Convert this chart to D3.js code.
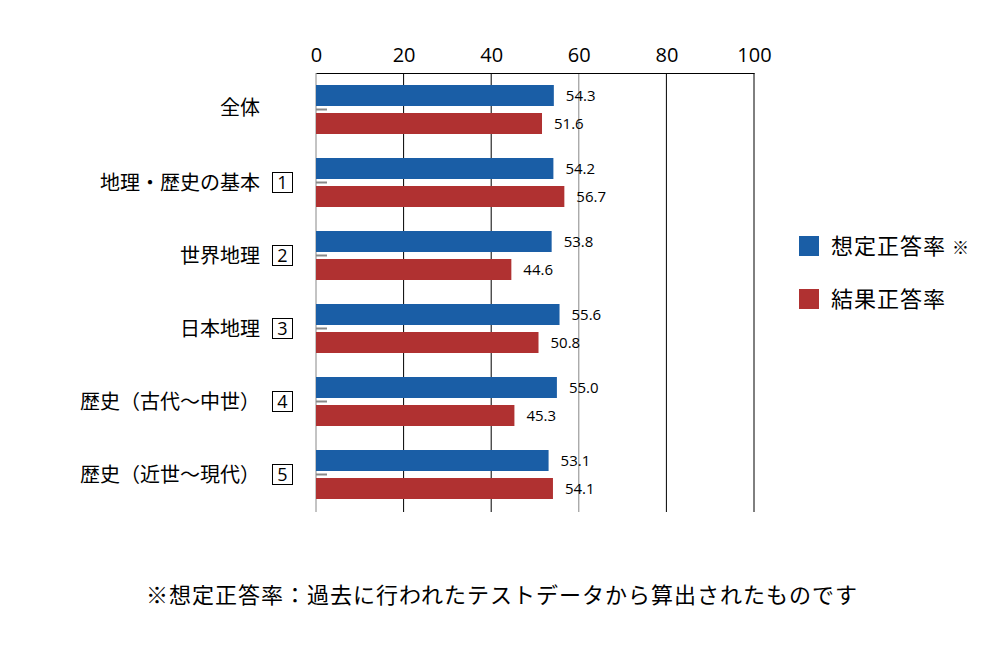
<!DOCTYPE html>
<html><head><meta charset="utf-8">
<script src="https://cdn.jsdelivr.net/npm/d3@7"></script>
<style>body{margin:0;background:#fff;} svg{display:block;font-family:"Noto Sans CJK JP","Noto Sans",sans-serif;}</style>
</head><body>
<script>
const categories = ["全体","地理・歴史の基本","世界地理","日本地理","歴史（古代〜中世）","歴史（近世〜現代）"];
const boxNums = ["","1","2","3","4","5"];
const expected = [54.3,54.2,53.8,55.6,55.0,53.1];
const actual = [51.6,56.7,44.6,50.8,45.3,54.1];
const expectedLabels = ["54.3","54.2","53.8","55.6","55.0","53.1"];
const actualLabels = ["51.6","56.7","44.6","50.8","45.3","54.1"];
const ticks = [0,20,40,60,80,100];
const seriesNames = ["想定正答率","結果正答率"];
const colors = ["#1a5ea6","#b03131"];
const footnote = "※想定正答率：過去に行われたテストデータから算出されたものです";

const W=1001,H=660;
const svg=d3.select("body").append("svg").attr("width",W).attr("height",H);
const x=d3.scaleLinear().domain([0,100]).range([316,754]);
const y=d3.scaleBand().domain(categories).range([73,511]);
const numFont="'Open Sans','Noto Sans',sans-serif";

svg.append("g").selectAll("line").data(ticks).join("line")
 .attr("x1",d=>x(d)).attr("x2",d=>x(d)).attr("y1",73).attr("y2",512)
 .attr("stroke",d=>(d===0||d===60)?"#888":"#000").attr("stroke-width",1);
const ax=svg.append("g").attr("transform","translate(0,73)")
 .call(d3.axisTop(x).tickValues(ticks).tickSize(0).tickPadding(11));
ax.select(".domain").attr("stroke","#000").attr("d","M316.5,0.5H754.5");
ax.selectAll("text").attr("font-size",20).attr("fill","#000").attr("font-family",numFont);

const g=svg.append("g");
categories.forEach((c,i)=>{
  const b=y(c);
  g.append("rect").attr("x",x(0)).attr("y",b+12).attr("width",x(expected[i])-x(0)).attr("height",21).attr("fill",colors[0]);
  g.append("rect").attr("x",x(0)).attr("y",b+40).attr("width",x(actual[i])-x(0)).attr("height",21).attr("fill",colors[1]);
  g.append("line").attr("x1",x(0)).attr("x2",x(0)+11).attr("y1",b+36.5).attr("y2",b+36.5).attr("stroke","#888").attr("stroke-width",2);
  g.append("text").attr("x",x(expected[i])+12).attr("y",b+23).attr("dy","0.35em").attr("font-size",15).attr("font-family",numFont).text(expectedLabels[i]);
  g.append("text").attr("x",x(actual[i])+12).attr("y",b+51).attr("dy","0.35em").attr("font-size",15).attr("font-family",numFont).text(actualLabels[i]);
  const cy=b+37;
  if(boxNums[i]){
    g.append("rect").attr("x",272.5).attr("y",cy-10.5).attr("width",20).attr("height",20).attr("fill","none").attr("stroke","#000").attr("stroke-width",1);
    g.append("text").attr("x",282.5).attr("y",cy).attr("dy","0.35em").attr("text-anchor","middle").attr("font-size",18).attr("font-family",numFont).text(boxNums[i]);
    g.append("text").attr("x",260).attr("y",cy).attr("dy","0.35em").attr("text-anchor","end").attr("font-size",20).text(c);
  } else {
    g.append("text").attr("x",260).attr("y",cy-2).attr("dy","0.35em").attr("text-anchor","end").attr("font-size",20).text(c);
  }
});

const lg=svg.append("g");
seriesNames.forEach((s,i)=>{
  const yy=236+i*53;
  lg.append("rect").attr("x",799).attr("y",yy).attr("width",20).attr("height",20).attr("fill",colors[i]);
  const t=lg.append("text").attr("x",831).attr("y",yy+10).attr("dy","0.35em").attr("font-size",22).attr("letter-spacing",1).text(s);
  if(i===0){ t.append("tspan").attr("font-size",17).attr("dx",6).text("※"); }
});

svg.append("text").attr("x",502).attr("y",595).attr("dy","0.35em").attr("text-anchor","middle").attr("font-size",22).attr("letter-spacing",1).text(footnote);
</script>
</body></html>
